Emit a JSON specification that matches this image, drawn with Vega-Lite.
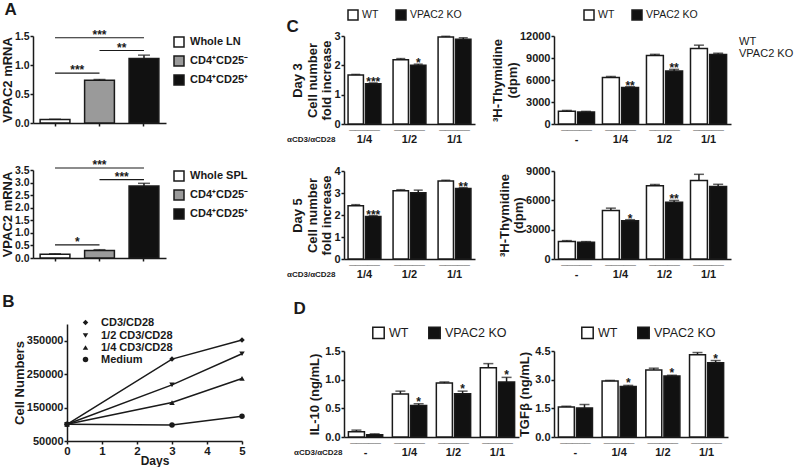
{
  "$schema": "https://vega.github.io/schema/vega-lite/v6.json",
  "background": "white",
  "padding": {"left": 1, "top": 0, "right": 0, "bottom": 0},
  "config": {
    "font": "Liberation Sans",
    "view": {"stroke": null},
    "axis": {"labelFontWeight": "bold", "labelFontSize": 11, "labelColor": "#1a1a1a", "titleFontSize": 13, "titleFontWeight": "bold", "titleColor": "#1a1a1a", "domainColor": "#1a1a1a", "domainWidth": 1.5, "tickColor": "#1a1a1a", "tickWidth": 1.5, "tickSize": 3, "grid": false, "labelPadding": 1, "titlePadding": 0, "labelFlush": false, "labelOverlap": false, "tickCount": 20, "titleLineHeight": 14.5},
    "legend": {"labelColor": "#1a1a1a", "labelFont": "Liberation Sans"},
    "title": {"fontSize": 17, "fontWeight": "bold", "color": "#1a1a1a", "anchor": "start", "frame": "bounds"}
  },
  "datasets": {
    "a1": [
      {"cell": "Whole LN", "v": 0.06, "hi": 0.065},
      {"cell": "CD4⁺CD25⁻", "v": 0.735, "hi": 0.75},
      {"cell": "CD4⁺CD25⁺", "v": 1.11, "hi": 1.17}
    ],
    "a1s": [
      {"a": "Whole LN", "b": "CD4⁺CD25⁺", "y": 1.47, "s": "***", "k": "c", "m": "CD4⁺CD25⁻"},
      {"a": "CD4⁺CD25⁻", "b": "CD4⁺CD25⁺", "y": 1.25, "s": "**", "k": "a", "m": ""},
      {"a": "Whole LN", "b": "CD4⁺CD25⁻", "y": 0.86, "s": "***", "k": "a", "m": ""}
    ],
    "a2": [
      {"cell": "Whole SPL", "v": 0.15, "hi": 0.17},
      {"cell": "CD4⁺CD25⁻", "v": 0.3, "hi": 0.33},
      {"cell": "CD4⁺CD25⁺", "v": 2.86, "hi": 2.97}
    ],
    "a2s": [
      {"a": "Whole SPL", "b": "CD4⁺CD25⁺", "y": 3.58, "s": "***", "k": "c", "m": "CD4⁺CD25⁻"},
      {"a": "CD4⁺CD25⁻", "b": "CD4⁺CD25⁺", "y": 3.12, "s": "***", "k": "a", "m": ""},
      {"a": "Whole SPL", "b": "CD4⁺CD25⁻", "y": 0.52, "s": "*", "k": "a", "m": ""}
    ],
    "b": [
      {"series": "CD3/CD28", "day": 0, "cells": 100000},
      {"series": "CD3/CD28", "day": 3, "cells": 295000},
      {"series": "CD3/CD28", "day": 5, "cells": 352000},
      {"series": "1/2 CD3/CD28", "day": 0, "cells": 100000},
      {"series": "1/2 CD3/CD28", "day": 3, "cells": 218000},
      {"series": "1/2 CD3/CD28", "day": 5, "cells": 311000},
      {"series": "1/4 CD3/CD28", "day": 0, "cells": 100000},
      {"series": "1/4 CD3/CD28", "day": 3, "cells": 165000},
      {"series": "1/4 CD3/CD28", "day": 5, "cells": 237000},
      {"series": "Medium", "day": 0, "cells": 100000},
      {"series": "Medium", "day": 3, "cells": 98000},
      {"series": "Medium", "day": 5, "cells": 124000}
    ],
    "c1l": [
      {"dose": "1/4", "g": "WT", "v": 1.67, "hi": 1.69, "sig": ""},
      {"dose": "1/4", "g": "VPAC2 KO", "v": 1.37, "hi": 1.4, "sig": "***"},
      {"dose": "1/2", "g": "WT", "v": 2.19, "hi": 2.23, "sig": ""},
      {"dose": "1/2", "g": "VPAC2 KO", "v": 2.0, "hi": 2.04, "sig": "*"},
      {"dose": "1/1", "g": "WT", "v": 2.97, "hi": 2.99, "sig": ""},
      {"dose": "1/1", "g": "VPAC2 KO", "v": 2.89, "hi": 2.94, "sig": ""}
    ],
    "c1r": [
      {"dose": "-", "g": "WT", "v": 1750, "hi": 1850, "sig": ""},
      {"dose": "-", "g": "VPAC2 KO", "v": 1650, "hi": 1720, "sig": ""},
      {"dose": "1/4", "g": "WT", "v": 6330, "hi": 6480, "sig": ""},
      {"dose": "1/4", "g": "VPAC2 KO", "v": 4990, "hi": 5080, "sig": "**"},
      {"dose": "1/2", "g": "WT", "v": 9340, "hi": 9500, "sig": ""},
      {"dose": "1/2", "g": "VPAC2 KO", "v": 7230, "hi": 7450, "sig": "**"},
      {"dose": "1/1", "g": "WT", "v": 10280, "hi": 10750, "sig": ""},
      {"dose": "1/1", "g": "VPAC2 KO", "v": 9470, "hi": 9650, "sig": ""}
    ],
    "c2l": [
      {"dose": "1/4", "g": "WT", "v": 2.42, "hi": 2.47, "sig": ""},
      {"dose": "1/4", "g": "VPAC2 KO", "v": 1.93, "hi": 1.97, "sig": "***"},
      {"dose": "1/2", "g": "WT", "v": 3.1, "hi": 3.15, "sig": ""},
      {"dose": "1/2", "g": "VPAC2 KO", "v": 3.01, "hi": 3.13, "sig": ""},
      {"dose": "1/1", "g": "WT", "v": 3.55, "hi": 3.58, "sig": ""},
      {"dose": "1/1", "g": "VPAC2 KO", "v": 3.2, "hi": 3.24, "sig": "**"}
    ],
    "c2r": [
      {"dose": "-", "g": "WT", "v": 1780, "hi": 1880, "sig": ""},
      {"dose": "-", "g": "VPAC2 KO", "v": 1710, "hi": 1780, "sig": ""},
      {"dose": "1/4", "g": "WT", "v": 4950, "hi": 5200, "sig": ""},
      {"dose": "1/4", "g": "VPAC2 KO", "v": 3920, "hi": 4020, "sig": "*"},
      {"dose": "1/2", "g": "WT", "v": 7500, "hi": 7620, "sig": ""},
      {"dose": "1/2", "g": "VPAC2 KO", "v": 5800, "hi": 5990, "sig": "**"},
      {"dose": "1/1", "g": "WT", "v": 8040, "hi": 8660, "sig": ""},
      {"dose": "1/1", "g": "VPAC2 KO", "v": 7420, "hi": 7640, "sig": ""}
    ],
    "dl": [
      {"dose": "-", "g": "WT", "v": 0.09, "hi": 0.12, "sig": ""},
      {"dose": "-", "g": "VPAC2 KO", "v": 0.04, "hi": 0.055, "sig": ""},
      {"dose": "1/4", "g": "WT", "v": 0.75, "hi": 0.8, "sig": ""},
      {"dose": "1/4", "g": "VPAC2 KO", "v": 0.55, "hi": 0.58, "sig": "*"},
      {"dose": "1/2", "g": "WT", "v": 0.94, "hi": 0.96, "sig": ""},
      {"dose": "1/2", "g": "VPAC2 KO", "v": 0.755, "hi": 0.8, "sig": "*"},
      {"dose": "1/1", "g": "WT", "v": 1.21, "hi": 1.28, "sig": ""},
      {"dose": "1/1", "g": "VPAC2 KO", "v": 0.96, "hi": 1.04, "sig": "*"}
    ],
    "dr": [
      {"dose": "-", "g": "WT", "v": 1.57, "hi": 1.61, "sig": ""},
      {"dose": "-", "g": "VPAC2 KO", "v": 1.52, "hi": 1.7, "sig": ""},
      {"dose": "1/4", "g": "WT", "v": 2.93, "hi": 2.96, "sig": ""},
      {"dose": "1/4", "g": "VPAC2 KO", "v": 2.64, "hi": 2.7, "sig": "*"},
      {"dose": "1/2", "g": "WT", "v": 3.5, "hi": 3.6, "sig": ""},
      {"dose": "1/2", "g": "VPAC2 KO", "v": 3.19, "hi": 3.23, "sig": "*"},
      {"dose": "1/1", "g": "WT", "v": 4.3, "hi": 4.42, "sig": ""},
      {"dose": "1/1", "g": "VPAC2 KO", "v": 3.88, "hi": 4.0, "sig": "*"}
    ],
    "keys": [{"k": "WT"}, {"k": "VPAC2 KO"}],
    "none": [{"z": 0}]
  },
  "columns": 2,
  "align": "none",
  "spacing": 37,
  "resolve": {"scale": {"x": "independent", "y": "independent", "fill": "independent", "shape": "independent", "xOffset": "independent"}},
  "concat": [
    {
      "columns": 1, "align": "none", "spacing": 29,
      "resolve": {"scale": {"x": "independent", "y": "independent", "fill": "independent", "shape": "independent", "xOffset": "independent"}},
      "concat": [
        {
          "title": {"text": "A", "dx": 3, "offset": 10},
          "width": 133, "height": 87,
          "layer": [
            {"data": {"name": "a1"}, "layer": [
              {"mark": {"type": "bar", "stroke": "#1a1a1a", "strokeWidth": 1.5},
               "encoding": {
                 "x": {"field": "cell", "type": "nominal", "sort": null, "scale": {"domain": ["Whole LN", "CD4⁺CD25⁻", "CD4⁺CD25⁺"], "paddingInner": 0.33, "paddingOuter": 0.16}, "axis": {"title": null, "labels": false}},
                 "y": {"field": "v", "type": "quantitative", "scale": {"domain": [0, 1.5], "nice": false}, "axis": {"values": [0, 0.5, 1, 1.5], "tickCount": 20, "labelOverlap": false, "format": ".1f", "title": "VPAC2 mRNA", "labelFontSize": 10.5, "titlePadding": 0}},
                 "fill": {"field": "cell", "type": "nominal", "sort": null, "scale": {"domain": ["Whole LN", "CD4⁺CD25⁻", "CD4⁺CD25⁺"], "range": ["#ffffff", "#9a9a9a", "#111111"]}, "legend": {"title": null, "orient": "right", "offset": 7, "symbolType": "square", "symbolSize": 100, "symbolStrokeColor": "#1a1a1a", "symbolStrokeWidth": 1.5, "labelFontSize": 11, "labelFontWeight": "bold", "rowPadding": 3, "labelOffset": 5}}
               }},
              {"mark": {"type": "rule", "color": "#1a1a1a", "strokeWidth": 1.5}, "encoding": {"x": {"field": "cell", "type": "nominal", "sort": null}, "y": {"field": "v", "type": "quantitative"}, "y2": {"field": "hi"}}},
              {"mark": {"type": "tick", "color": "#1a1a1a", "thickness": 1.5, "size": 12}, "encoding": {"x": {"field": "cell", "type": "nominal", "sort": null}, "y": {"field": "hi", "type": "quantitative"}}}
            ]},
            {"data": {"name": "a1s"}, "layer": [
              {"mark": {"type": "rule", "color": "#1a1a1a", "strokeWidth": 1.2}, "encoding": {"x": {"field": "a", "type": "nominal", "sort": null}, "x2": {"field": "b"}, "y": {"field": "y", "type": "quantitative"}}},
              {"transform": [{"filter": "datum.k == 'c'"}], "mark": {"type": "text", "baseline": "alphabetic", "dy": 1, "fontSize": 12, "fontWeight": "bold", "color": "#1a1a1a"}, "encoding": {"x": {"field": "m", "type": "nominal", "sort": null}, "y": {"field": "y", "type": "quantitative"}, "text": {"field": "s"}}},
              {"transform": [{"filter": "datum.k == 'a'"}], "mark": {"type": "text", "baseline": "alphabetic", "dy": 1, "fontSize": 12, "fontWeight": "bold", "color": "#1a1a1a"}, "encoding": {"x": {"field": "a", "type": "nominal", "sort": null, "bandPosition": 1.246}, "y": {"field": "y", "type": "quantitative"}, "text": {"field": "s"}}}
            ]}
          ]
        },
        {
          "width": 133, "height": 88,
          "layer": [
            {"data": {"name": "a2"}, "layer": [
              {"mark": {"type": "bar", "stroke": "#1a1a1a", "strokeWidth": 1.5},
               "encoding": {
                 "x": {"field": "cell", "type": "nominal", "sort": null, "scale": {"domain": ["Whole SPL", "CD4⁺CD25⁻", "CD4⁺CD25⁺"], "paddingInner": 0.33, "paddingOuter": 0.16}, "axis": {"title": null, "labels": false}},
                 "y": {"field": "v", "type": "quantitative", "scale": {"domain": [0, 3.5], "nice": false}, "axis": {"values": [0, 0.5, 1, 1.5, 2, 2.5, 3, 3.5], "tickCount": 20, "labelOverlap": false, "format": ".1f", "title": "VPAC2 mRNA", "labelFontSize": 10.5, "titlePadding": 0}},
                 "fill": {"field": "cell", "type": "nominal", "sort": null, "scale": {"domain": ["Whole SPL", "CD4⁺CD25⁻", "CD4⁺CD25⁺"], "range": ["#ffffff", "#9a9a9a", "#111111"]}, "legend": {"title": null, "orient": "right", "offset": 7, "symbolType": "square", "symbolSize": 100, "symbolStrokeColor": "#1a1a1a", "symbolStrokeWidth": 1.5, "labelFontSize": 11, "labelFontWeight": "bold", "rowPadding": 3, "labelOffset": 5}}
               }},
              {"mark": {"type": "rule", "color": "#1a1a1a", "strokeWidth": 1.5}, "encoding": {"x": {"field": "cell", "type": "nominal", "sort": null}, "y": {"field": "v", "type": "quantitative"}, "y2": {"field": "hi"}}},
              {"mark": {"type": "tick", "color": "#1a1a1a", "thickness": 1.5, "size": 12}, "encoding": {"x": {"field": "cell", "type": "nominal", "sort": null}, "y": {"field": "hi", "type": "quantitative"}}}
            ]},
            {"data": {"name": "a2s"}, "layer": [
              {"mark": {"type": "rule", "color": "#1a1a1a", "strokeWidth": 1.2}, "encoding": {"x": {"field": "a", "type": "nominal", "sort": null}, "x2": {"field": "b"}, "y": {"field": "y", "type": "quantitative"}}},
              {"transform": [{"filter": "datum.k == 'c'"}], "mark": {"type": "text", "baseline": "alphabetic", "dy": 1, "fontSize": 12, "fontWeight": "bold", "color": "#1a1a1a"}, "encoding": {"x": {"field": "m", "type": "nominal", "sort": null}, "y": {"field": "y", "type": "quantitative"}, "text": {"field": "s"}}},
              {"transform": [{"filter": "datum.k == 'a'"}], "mark": {"type": "text", "baseline": "alphabetic", "dy": 1, "fontSize": 12, "fontWeight": "bold", "color": "#1a1a1a"}, "encoding": {"x": {"field": "a", "type": "nominal", "sort": null, "bandPosition": 1.246}, "y": {"field": "y", "type": "quantitative"}, "text": {"field": "s"}}}
            ]}
          ]
        },
        {
          "columns": 2, "align": "none", "spacing": -35,
          "resolve": {"scale": {"x": "independent", "y": "independent", "fill": "independent", "shape": "independent", "xOffset": "independent"}},
          "concat": [
            {"width": 1, "height": 1, "data": {"name": "none"}, "mark": {"type": "point", "opacity": 0}, "encoding": {}},
            {
              "title": {"text": "B", "dx": -11, "offset": 6},
              "width": 175, "height": 117,
              "data": {"name": "b"},
              "layer": [
                {"mark": {"type": "line", "color": "#1a1a1a", "strokeWidth": 1.5},
                 "encoding": {
                   "x": {"field": "day", "type": "quantitative", "scale": {"domain": [0, 5], "nice": false}, "axis": {"values": [0, 1, 2, 3, 4, 5], "tickCount": 20, "labelOverlap": false, "format": "d", "title": "Days", "titlePadding": -1, "titleFontSize": 12, "labelFontSize": 11.5}},
                   "y": {"field": "cells", "type": "quantitative", "scale": {"domain": [50000, 400000], "nice": false, "zero": false}, "axis": {"values": [50000, 150000, 250000, 350000], "tickCount": 20, "labelOverlap": false, "format": "d", "title": "Cell Numbers", "labelFontSize": 11}},
                   "detail": {"field": "series", "type": "nominal"}
                 }},
                {"mark": {"type": "point", "filled": true, "color": "#1a1a1a", "size": 30, "opacity": 1},
                 "encoding": {
                   "x": {"field": "day", "type": "quantitative"},
                   "y": {"field": "cells", "type": "quantitative"},
                   "shape": {"field": "series", "type": "nominal", "sort": null, "scale": {"domain": ["CD3/CD28", "1/2 CD3/CD28", "1/4 CD3/CD28", "Medium"], "range": ["diamond", "triangle-down", "triangle-up", "circle"]}, "legend": {"title": null, "orient": "none", "legendX": 13, "legendY": -7, "labelFontSize": 11, "labelFontWeight": "bold", "symbolFillColor": "#1a1a1a", "symbolStrokeColor": "#1a1a1a", "symbolSize": 30, "rowPadding": 0, "labelOffset": 10}}
                 }}
              ]
            }
          ]
        }
      ]
    },
    {
      "columns": 2, "align": "each",
      "spacing": {"row": 21, "column": -28},
      "resolve": {"scale": {"x": "independent", "y": "independent", "fill": "independent", "shape": "independent", "xOffset": "independent"}},
      "concat": [
        {
          "title": {"text": "C", "dy": 27, "offset": 0},
          "width": 131, "height": 88,
          "data": {"name": "c1l"},
          "encoding": {
            "x": {"field": "dose", "type": "nominal", "sort": null, "scale": {"domain": ["1/4", "1/2", "1/1"], "paddingInner": 0.27, "paddingOuter": 0.09}, "axis": {"title": "αCD3/αCD28", "titleAngle": 0, "titleAlign": "right", "titleBaseline": "middle", "titleX": -9, "titleY": 15, "titleFontSize": 8, "labelExpr": "['_____', datum.label]", "ticks": false, "labelPadding": -5, "labelLineHeight": 14, "labelAngle": 0}},
            "xOffset": {"field": "g", "type": "nominal", "sort": null, "scale": {"domain": ["WT", "VPAC2 KO"], "paddingInner": 0.12}}
          },
          "layer": [
            {"mark": {"type": "bar", "stroke": "#1a1a1a", "strokeWidth": 1.5},
             "encoding": {
               "y": {"field": "v", "type": "quantitative", "scale": {"domain": [0, 3], "nice": false}, "axis": {"values": [0, 1, 2, 3], "tickCount": 20, "labelOverlap": false, "format": "d", "title": ["Day 3", "Cell number", "fold increase"]}},
               "fill": {"field": "g", "type": "nominal", "sort": null, "scale": {"domain": ["WT", "VPAC2 KO"], "range": ["#ffffff", "#111111"]}, "legend": {"title": null, "orient": "none", "legendX": 3, "legendY": -27, "direction": "horizontal", "symbolType": "square", "symbolSize": 100, "symbolStrokeColor": "#1a1a1a", "symbolStrokeWidth": 1.5, "labelFontSize": 10.5, "columnPadding": 14, "labelOffset": 3}}
             }},
            {"mark": {"type": "rule", "color": "#1a1a1a", "strokeWidth": 1.5}, "encoding": {"y": {"field": "v", "type": "quantitative"}, "y2": {"field": "hi"}}},
            {"mark": {"type": "tick", "color": "#1a1a1a", "thickness": 1.5, "size": 9}, "encoding": {"y": {"field": "hi", "type": "quantitative"}}},
            {"mark": {"type": "text", "baseline": "alphabetic", "dy": 3, "fontSize": 12, "fontWeight": "bold", "color": "#1a1a1a"}, "encoding": {"y": {"field": "hi", "type": "quantitative"}, "text": {"field": "sig"}}}
          ]
        },
        {
          "width": 177, "height": 88,
          "layer": [
            {
              "data": {"name": "c1r"},
              "encoding": {
                "x": {"field": "dose", "type": "nominal", "sort": null, "scale": {"domain": ["-", "1/4", "1/2", "1/1"], "paddingInner": 0.18, "paddingOuter": 0.1}, "axis": {"title": null, "labelExpr": "['_____', datum.label]", "ticks": false, "labelPadding": -5, "labelLineHeight": 14, "labelAngle": 0}},
                "xOffset": {"field": "g", "type": "nominal", "sort": null, "scale": {"domain": ["WT", "VPAC2 KO"], "paddingInner": 0.12}}
              },
              "layer": [
                {"mark": {"type": "bar", "stroke": "#1a1a1a", "strokeWidth": 1.5},
                 "encoding": {
                   "y": {"field": "v", "type": "quantitative", "scale": {"domain": [0, 12000], "nice": false}, "axis": {"values": [0, 3000, 6000, 9000, 12000], "tickCount": 20, "labelOverlap": false, "format": "d", "title": ["³H-Thymidine", "(dpm)"]}},
                   "fill": {"field": "g", "type": "nominal", "sort": null, "scale": {"domain": ["WT", "VPAC2 KO"], "range": ["#ffffff", "#111111"]}, "legend": {"title": null, "orient": "none", "legendX": 29, "legendY": -27, "direction": "horizontal", "symbolType": "square", "symbolSize": 100, "symbolStrokeColor": "#1a1a1a", "symbolStrokeWidth": 1.5, "labelFontSize": 10.5, "columnPadding": 14, "labelOffset": 3}}
                 }},
                {"mark": {"type": "rule", "color": "#1a1a1a", "strokeWidth": 1.5}, "encoding": {"y": {"field": "v", "type": "quantitative"}, "y2": {"field": "hi"}}},
                {"mark": {"type": "tick", "color": "#1a1a1a", "thickness": 1.5, "size": 10}, "encoding": {"y": {"field": "hi", "type": "quantitative"}}},
                {"mark": {"type": "text", "baseline": "alphabetic", "dy": 3, "fontSize": 12, "fontWeight": "bold", "color": "#1a1a1a"}, "encoding": {"y": {"field": "hi", "type": "quantitative"}, "text": {"field": "sig"}}}
              ]
            },
            {
              "data": {"name": "keys"},
              "mark": {"type": "point", "opacity": 0},
              "encoding": {"shape": {"field": "k", "type": "nominal", "sort": null, "scale": {"domain": ["WT", "VPAC2 KO"]}, "legend": {"title": null, "orient": "right", "offset": -3, "symbolSize": 0, "symbolOpacity": 0, "symbolStrokeWidth": 0, "labelFontSize": 11, "labelOffset": 0, "rowPadding": 0}}}
            }
          ]
        },
        {
          "width": 131, "height": 88,
          "data": {"name": "c2l"},
          "encoding": {
            "x": {"field": "dose", "type": "nominal", "sort": null, "scale": {"domain": ["1/4", "1/2", "1/1"], "paddingInner": 0.27, "paddingOuter": 0.09}, "axis": {"title": "αCD3/αCD28", "titleAngle": 0, "titleAlign": "right", "titleBaseline": "middle", "titleX": -9, "titleY": 15, "titleFontSize": 8, "labelExpr": "['_____', datum.label]", "ticks": false, "labelPadding": -5, "labelLineHeight": 14, "labelAngle": 0}},
            "xOffset": {"field": "g", "type": "nominal", "sort": null, "scale": {"domain": ["WT", "VPAC2 KO"], "paddingInner": 0.12}}
          },
          "layer": [
            {"mark": {"type": "bar", "stroke": "#1a1a1a", "strokeWidth": 1.5},
             "encoding": {
               "y": {"field": "v", "type": "quantitative", "scale": {"domain": [0, 4], "nice": false}, "axis": {"values": [0, 1, 2, 3, 4], "tickCount": 20, "labelOverlap": false, "format": "d", "title": ["Day 5", "Cell number", "fold increase"]}},
               "fill": {"field": "g", "type": "nominal", "sort": null, "scale": {"domain": ["WT", "VPAC2 KO"], "range": ["#ffffff", "#111111"]}, "legend": null}
             }},
            {"mark": {"type": "rule", "color": "#1a1a1a", "strokeWidth": 1.5}, "encoding": {"y": {"field": "v", "type": "quantitative"}, "y2": {"field": "hi"}}},
            {"mark": {"type": "tick", "color": "#1a1a1a", "thickness": 1.5, "size": 9}, "encoding": {"y": {"field": "hi", "type": "quantitative"}}},
            {"mark": {"type": "text", "baseline": "alphabetic", "dy": 3, "fontSize": 12, "fontWeight": "bold", "color": "#1a1a1a"}, "encoding": {"y": {"field": "hi", "type": "quantitative"}, "text": {"field": "sig"}}}
          ]
        },
        {
          "width": 177, "height": 88,
          "layer": [
            {
              "data": {"name": "c2r"},
              "encoding": {
                "x": {"field": "dose", "type": "nominal", "sort": null, "scale": {"domain": ["-", "1/4", "1/2", "1/1"], "paddingInner": 0.18, "paddingOuter": 0.1}, "axis": {"title": null, "labelExpr": "['_____', datum.label]", "ticks": false, "labelPadding": -5, "labelLineHeight": 14, "labelAngle": 0}},
                "xOffset": {"field": "g", "type": "nominal", "sort": null, "scale": {"domain": ["WT", "VPAC2 KO"], "paddingInner": 0.12}}
              },
              "layer": [
                {"mark": {"type": "bar", "stroke": "#1a1a1a", "strokeWidth": 1.5},
                 "encoding": {
                   "y": {"field": "v", "type": "quantitative", "scale": {"domain": [0, 9000], "nice": false}, "axis": {"values": [0, 3000, 6000, 9000], "tickCount": 20, "labelOverlap": false, "format": "d", "title": ["³H-Thymidine", "(dpm)"]}},
                   "fill": {"field": "g", "type": "nominal", "sort": null, "scale": {"domain": ["WT", "VPAC2 KO"], "range": ["#ffffff", "#111111"]}, "legend": null}
                 }},
                {"mark": {"type": "rule", "color": "#1a1a1a", "strokeWidth": 1.5}, "encoding": {"y": {"field": "v", "type": "quantitative"}, "y2": {"field": "hi"}}},
                {"mark": {"type": "tick", "color": "#1a1a1a", "thickness": 1.5, "size": 10}, "encoding": {"y": {"field": "hi", "type": "quantitative"}}},
                {"mark": {"type": "text", "baseline": "alphabetic", "dy": 3, "fontSize": 12, "fontWeight": "bold", "color": "#1a1a1a"}, "encoding": {"y": {"field": "hi", "type": "quantitative"}, "text": {"field": "sig"}}}
              ]
            },
            {
              "data": {"name": "keys"},
              "mark": {"type": "point", "opacity": 0},
              "encoding": {"shape": {"field": "k", "type": "nominal", "sort": null, "scale": {"domain": ["WT", "VPAC2 KO"]}, "legend": {"title": null, "orient": "right", "offset": -3, "symbolSize": 0, "symbolOpacity": 0, "symbolStrokeWidth": 0, "labelFontSize": 11, "labelOffset": 0, "rowPadding": 0}}}
            }
          ]
        },
        {
          "title": {"text": "D", "offset": 8},
          "width": 175, "height": 86,
          "data": {"name": "dl"},
          "encoding": {
            "x": {"field": "dose", "type": "nominal", "sort": null, "scale": {"domain": ["-", "1/4", "1/2", "1/1"], "paddingInner": 0.22, "paddingOuter": 0.1}, "axis": {"title": "αCD3/αCD28", "titleAngle": 0, "titleAlign": "right", "titleBaseline": "middle", "titleX": -2, "titleY": 15, "titleFontSize": 8, "labelExpr": "['_____', datum.label]", "ticks": false, "labelPadding": -5, "labelLineHeight": 14, "labelAngle": 0}},
            "xOffset": {"field": "g", "type": "nominal", "sort": null, "scale": {"domain": ["WT", "VPAC2 KO"], "paddingInner": 0.12}}
          },
          "layer": [
            {"mark": {"type": "bar", "stroke": "#1a1a1a", "strokeWidth": 1.5},
             "encoding": {
               "y": {"field": "v", "type": "quantitative", "scale": {"domain": [0, 1.5], "nice": false}, "axis": {"values": [0, 0.5, 1, 1.5], "tickCount": 20, "labelOverlap": false, "format": ".1f", "title": "IL-10 (ng/mL)", "titlePadding": 3}},
               "fill": {"field": "g", "type": "nominal", "sort": null, "scale": {"domain": ["WT", "VPAC2 KO"], "range": ["#ffffff", "#111111"]}, "legend": {"title": null, "orient": "none", "legendX": 28, "legendY": -25, "direction": "horizontal", "symbolType": "square", "symbolSize": 130, "symbolStrokeColor": "#1a1a1a", "symbolStrokeWidth": 1.5, "labelFontSize": 12.5, "columnPadding": 16, "labelOffset": 4}}
             }},
            {"mark": {"type": "rule", "color": "#1a1a1a", "strokeWidth": 1.5}, "encoding": {"y": {"field": "v", "type": "quantitative"}, "y2": {"field": "hi"}}},
            {"mark": {"type": "tick", "color": "#1a1a1a", "thickness": 1.5, "size": 10}, "encoding": {"y": {"field": "hi", "type": "quantitative"}}},
            {"mark": {"type": "text", "baseline": "alphabetic", "dy": 2, "fontSize": 12, "fontWeight": "bold", "color": "#1a1a1a"}, "encoding": {"y": {"field": "hi", "type": "quantitative"}, "text": {"field": "sig"}}}
          ]
        },
        {
          "width": 174, "height": 86,
          "data": {"name": "dr"},
          "encoding": {
            "x": {"field": "dose", "type": "nominal", "sort": null, "scale": {"domain": ["-", "1/4", "1/2", "1/1"], "paddingInner": 0.22, "paddingOuter": 0.1}, "axis": {"title": null, "labelExpr": "['_____', datum.label]", "ticks": false, "labelPadding": -5, "labelLineHeight": 14, "labelAngle": 0}},
            "xOffset": {"field": "g", "type": "nominal", "sort": null, "scale": {"domain": ["WT", "VPAC2 KO"], "paddingInner": 0.12}}
          },
          "layer": [
            {"mark": {"type": "bar", "stroke": "#1a1a1a", "strokeWidth": 1.5},
             "encoding": {
               "y": {"field": "v", "type": "quantitative", "scale": {"domain": [0, 4.5], "nice": false}, "axis": {"values": [0, 1.5, 3, 4.5], "tickCount": 20, "labelOverlap": false, "format": ".1f", "title": "TGFβ (ng/mL)", "titlePadding": 3}},
               "fill": {"field": "g", "type": "nominal", "sort": null, "scale": {"domain": ["WT", "VPAC2 KO"], "range": ["#ffffff", "#111111"]}, "legend": {"title": null, "orient": "none", "legendX": 27, "legendY": -25, "direction": "horizontal", "symbolType": "square", "symbolSize": 130, "symbolStrokeColor": "#1a1a1a", "symbolStrokeWidth": 1.5, "labelFontSize": 12.5, "columnPadding": 16, "labelOffset": 4}}
             }},
            {"mark": {"type": "rule", "color": "#1a1a1a", "strokeWidth": 1.5}, "encoding": {"y": {"field": "v", "type": "quantitative"}, "y2": {"field": "hi"}}},
            {"mark": {"type": "tick", "color": "#1a1a1a", "thickness": 1.5, "size": 10}, "encoding": {"y": {"field": "hi", "type": "quantitative"}}},
            {"mark": {"type": "text", "baseline": "alphabetic", "dy": 2, "fontSize": 12, "fontWeight": "bold", "color": "#1a1a1a"}, "encoding": {"y": {"field": "hi", "type": "quantitative"}, "text": {"field": "sig"}}}
          ]
        }
      ]
    }
  ]
}
